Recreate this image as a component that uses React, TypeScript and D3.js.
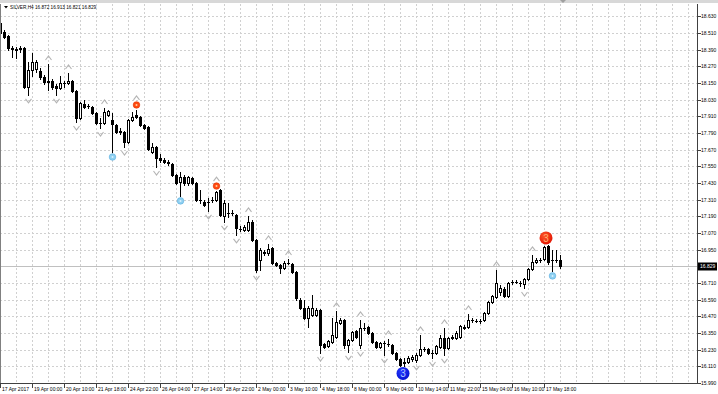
import React from "react";
import * as d3 from "d3";

const title = "SILVER,H4 16.872 16.913 16.821 16.829";
const lastPrice = 16.829;

const opens = [18.582,18.517,18.488,18.402,18.395,18.395,18.402,18.121,18.244,18.251,18.236,18.193,18.164,18.164,18.128,18.114,18.150,18.150,18.164,18.093,17.898,17.999,17.985,17.977,17.934,17.862,17.862,17.920,17.884,17.848,17.805,17.797,17.725,17.884,17.920,17.905,17.848,17.833,17.653,17.689,17.610,17.596,17.581,17.567,17.488,17.437,17.473,17.430,17.466,17.430,17.308,17.293,17.293,17.308,17.308,17.380,17.193,17.214,17.214,17.200,17.099,17.092,17.092,17.150,17.020,16.876,16.934,16.926,16.962,16.854,16.840,16.818,16.854,16.847,16.790,16.588,16.530,16.458,16.480,16.480,16.516,16.271,16.257,16.286,16.322,16.422,16.444,16.264,16.300,16.365,16.264,16.386,16.394,16.350,16.286,16.250,16.278,16.271,16.264,16.206,16.163,16.134,16.142,16.163,16.156,16.192,16.235,16.235,16.206,16.206,16.250,16.314,16.242,16.314,16.314,16.322,16.386,16.394,16.444,16.437,16.437,16.444,16.494,16.574,16.610,16.646,16.667,16.617,16.718,16.718,16.710,16.703,16.739,16.811,16.862,16.876,16.883,16.977,16.876,16.876,16.872];
const highs = [18.604,18.532,18.496,18.416,18.409,18.416,18.409,18.301,18.366,18.316,18.258,18.208,18.287,18.179,18.143,18.200,18.164,18.222,18.172,18.100,18.013,18.028,17.999,17.985,17.941,17.898,17.970,17.956,17.934,17.855,17.826,17.805,17.891,17.941,17.956,17.913,17.855,17.841,17.718,17.697,17.639,17.610,17.596,17.574,17.495,17.509,17.488,17.481,17.473,17.437,17.380,17.308,17.322,17.329,17.372,17.387,17.308,17.286,17.236,17.207,17.121,17.128,17.193,17.164,17.027,16.962,16.948,16.991,16.970,16.862,16.847,16.869,16.883,16.854,16.797,16.602,16.588,16.545,16.624,16.530,16.523,16.278,16.300,16.458,16.509,16.458,16.451,16.307,16.365,16.372,16.444,16.422,16.401,16.358,16.293,16.286,16.293,16.307,16.271,16.214,16.170,16.170,16.185,16.192,16.206,16.336,16.250,16.242,16.228,16.264,16.336,16.386,16.322,16.336,16.365,16.408,16.408,16.487,16.458,16.451,16.451,16.502,16.581,16.624,16.804,16.696,16.682,16.718,16.732,16.732,16.725,16.746,16.818,16.912,16.890,16.890,16.977,16.984,16.948,16.948,16.913];
const lows = [18.503,18.474,18.388,18.337,18.330,18.373,18.114,18.064,18.200,18.229,18.179,18.143,18.100,18.107,18.064,18.107,18.121,18.143,18.085,17.869,17.891,17.970,17.970,17.927,17.855,17.826,17.855,17.913,17.653,17.790,17.783,17.689,17.718,17.877,17.898,17.841,17.819,17.668,17.646,17.545,17.581,17.574,17.560,17.481,17.423,17.337,17.416,17.416,17.423,17.301,17.286,17.265,17.229,17.293,17.301,17.193,17.150,17.186,17.200,17.056,17.085,17.085,17.085,17.013,16.790,16.804,16.912,16.912,16.847,16.833,16.782,16.811,16.847,16.782,16.588,16.523,16.451,16.394,16.473,16.473,16.206,16.242,16.250,16.278,16.314,16.415,16.242,16.214,16.293,16.314,16.242,16.372,16.343,16.278,16.242,16.242,16.192,16.257,16.199,16.156,16.113,16.113,16.134,16.149,16.142,16.185,16.221,16.199,16.170,16.199,16.242,16.192,16.235,16.307,16.307,16.314,16.379,16.386,16.430,16.430,16.422,16.437,16.487,16.566,16.602,16.624,16.610,16.610,16.703,16.710,16.689,16.674,16.732,16.804,16.854,16.862,16.876,16.847,16.797,16.862,16.821];
const closes = [18.510,18.481,18.402,18.395,18.388,18.402,18.121,18.244,18.301,18.301,18.193,18.157,18.160,18.121,18.114,18.150,18.148,18.164,18.093,17.898,18.006,17.977,17.982,17.934,17.862,17.859,17.941,17.949,17.855,17.797,17.797,17.725,17.884,17.905,17.905,17.848,17.826,17.675,17.689,17.610,17.596,17.581,17.574,17.488,17.430,17.473,17.430,17.473,17.430,17.308,17.305,17.272,17.290,17.305,17.365,17.200,17.286,17.211,17.211,17.106,17.096,17.114,17.150,17.020,16.804,16.948,16.926,16.955,16.854,16.840,16.818,16.854,16.851,16.790,16.602,16.530,16.458,16.530,16.530,16.516,16.264,16.250,16.293,16.336,16.430,16.444,16.264,16.300,16.358,16.322,16.386,16.383,16.350,16.286,16.250,16.278,16.275,16.268,16.206,16.163,16.120,16.142,16.170,16.178,16.192,16.235,16.232,16.206,16.203,16.257,16.314,16.242,16.314,16.322,16.350,16.401,16.394,16.444,16.441,16.434,16.434,16.494,16.574,16.617,16.710,16.674,16.617,16.710,16.715,16.715,16.707,16.739,16.811,16.862,16.876,16.873,16.970,16.862,16.873,16.873,16.829];

const timeLabels = ["17 Apr 2017","19 Apr 00:00","20 Apr 10:00","21 Apr 18:00","24 Apr 22:00","26 Apr 04:00","27 Apr 14:00","28 Apr 22:00","2 May 00:00","3 May 10:00","4 May 18:00","8 May 00:00","9 May 04:00","10 May 14:00","11 May 22:00","15 May 04:00","16 May 10:00","17 May 18:00"];
const priceTicks = [18.63,18.51,18.39,18.27,18.15,18.03,17.91,17.79,17.67,17.55,17.43,17.31,17.19,17.07,16.95,16.83,16.71,16.59,16.47,16.35,16.23,16.11,15.99];

const upFractals = [12,17,26,34,54,62,67,72,84,90,97,105,111,117,124,133];
const downFractals = [7,14,19,25,31,39,52,56,59,64,80,87,90,96,104,108,111,131];
const sellDots = [34,54];
const buyDots = [28,45,138];
const sellBig = [136];
const buyBig = [101];
const bigLabel = "3";

const W = 718, H = 394;
const plotRight = 697, plotTop = 4, plotBottom = 383;
const barsPerLabel = 8;
const barsPerGrid = 4;

export default function App() {
  const n = closes.length;
  const x = d3.scaleLinear().domain([0, n - 1]).range([0, (n - 1) * 4]);
  const y = d3.scaleLinear().domain([15.99, 18.63]).range([plotBottom, 16.33]);
  const font = "'Liberation Sans', Arial, sans-serif";
  const gridXs = d3.range(0, plotRight, barsPerGrid * 4);
  const lastY = Math.round(y(lastPrice)) + 0.5;

  const candles = d3.range(n).map((i) => {
    const cx = Math.round(x(i));
    const yo = y(opens[i]), yc = y(closes[i]);
    const top = Math.round(Math.min(yo, yc));
    const bot = Math.round(Math.max(yo, yc));
    const bull = closes[i] >= opens[i];
    const wick = (
      <line key={"w" + i} x1={cx + 0.5} x2={cx + 0.5} y1={Math.round(y(highs[i]))} y2={Math.round(y(lows[i])) + 1} stroke="#000" strokeWidth={1} />
    );
    let body;
    if (bot - top < 1) {
      body = <line key={"b" + i} x1={cx - 1} x2={cx + 2} y1={top + 0.5} y2={top + 0.5} stroke="#000" />;
    } else if (bull) {
      body = <rect key={"b" + i} x={cx - 0.5} y={top + 0.5} width={2} height={bot - top} fill="#fff" stroke="#000" strokeWidth={1} />;
    } else {
      body = <rect key={"b" + i} x={cx - 1} y={top} width={3} height={bot - top + 1} fill="#000" />;
    }
    return <g key={i}>{wick}{body}</g>;
  });

  const chevron = (i: number, up: boolean, offset: number) => {
    const cx = Math.round(x(i)) + 0.5;
    const ay = up ? y(highs[i]) - offset : y(lows[i]) + offset;
    const d = up
      ? `M${cx - 3},${ay + 2}L${cx},${ay - 2}L${cx + 3},${ay + 2}`
      : `M${cx - 3},${ay - 2}L${cx},${ay + 2}L${cx + 3},${ay - 2}`;
    return <path key={(up ? "u" : "d") + i} d={d} fill="none" stroke="#b4b4b4" strokeWidth={1.1} />;
  };

  return (
    <svg width={W} height={H} style={{ position: "absolute", left: 0, top: 0, background: "#fff" }} xmlns="http://www.w3.org/2000/svg">
      <defs>
        <clipPath id="plot"><rect x={0} y={plotTop} width={plotRight} height={plotBottom - plotTop} /></clipPath>
        <radialGradient id="rg" cx="0.4" cy="0.35" r="0.7">
          <stop offset="0" stopColor="#ff5a2a" />
          <stop offset="1" stopColor="#e01000" />
        </radialGradient>
        <radialGradient id="bg" cx="0.4" cy="0.35" r="0.7">
          <stop offset="0" stopColor="#2a3cff" />
          <stop offset="1" stopColor="#0010d0" />
        </radialGradient>
      </defs>
      <rect x={0} y={0} width={W} height={H} fill="#fff" />
      <rect x={0} y={0} width={W} height={3} fill="#d8d8d8" />
      {/* grid */}
      <g stroke="#d0d0d0" strokeWidth={1} strokeDasharray="2,2">
        {priceTicks.map((p) => (
          <line key={"h" + p} x1={0} x2={plotRight} y1={Math.round(y(p)) + 0.5} y2={Math.round(y(p)) + 0.5} />
        ))}
        {gridXs.map((gx) => (
          <line key={"v" + gx} x1={gx + 0.5} x2={gx + 0.5} y1={plotTop} y2={plotBottom} />
        ))}
      </g>
      {/* current price line */}
      <line x1={0} x2={plotRight} y1={lastY} y2={lastY} stroke="#c0c0c0" />
      <g clipPath="url(#plot)">
        {candles}
        {upFractals.map((i) => chevron(i, true, sellDots.includes(i) ? 12 : 6))}
        {downFractals.map((i) => chevron(i, false, 6))}
        {sellDots.map((i) => (
          <g key={"sd" + i}>
            <circle cx={Math.round(x(i)) + 0.5} cy={y(highs[i]) - 5} r={3.3} fill="#ff4a10" stroke="#e03000" strokeWidth={0.6} />
            <circle cx={Math.round(x(i)) + 0.5} cy={y(highs[i]) - 5} r={1} fill="#ffd0a0" />
          </g>
        ))}
        {buyDots.map((i) => (
          <g key={"bd" + i}>
            <circle cx={Math.round(x(i)) + 0.5} cy={y(lows[i]) + 5} r={3.3} fill="#8fd0f0" stroke="#5aaee0" strokeWidth={0.6} />
            <circle cx={Math.round(x(i)) + 0.5} cy={y(lows[i]) + 5} r={1} fill="#d8f0ff" />
          </g>
        ))}
        {sellBig.map((i) => (
          <g key={"sb" + i}>
            <circle cx={Math.round(x(i)) + 2} cy={y(highs[i]) - 8} r={6.5} fill="url(#rg)" />
            <text x={Math.round(x(i)) + 2} y={y(highs[i]) - 8} dy="0.36em" textAnchor="middle" fontFamily={font} fontSize={10} fill="#ffb070">{bigLabel}</text>
          </g>
        ))}
        {buyBig.map((i) => (
          <g key={"bb" + i}>
            <circle cx={Math.round(x(i)) - 1} cy={y(lows[i]) + 7.5} r={6.5} fill="url(#bg)" />
            <text x={Math.round(x(i)) - 1} y={y(lows[i]) + 7.5} dy="0.36em" textAnchor="middle" fontFamily={font} fontSize={10} fill="#b0c8ff">{bigLabel}</text>
          </g>
        ))}
      </g>
      {/* frame */}
      <line x1={0.5} x2={0.5} y1={plotTop} y2={plotBottom} stroke="#808080" />
      <line x1={0} x2={plotRight + 1} y1={plotBottom + 0.5} y2={plotBottom + 0.5} stroke="#404040" />
      <line x1={plotRight + 0.5} x2={plotRight + 0.5} y1={plotTop} y2={plotBottom + 1} stroke="#404040" />
      <path d={`M${Math.round(x(n - 1))},0L${Math.round(x(n - 1)) + 6},0L${Math.round(x(n - 1)) + 3},3Z`} fill="#a0a0a0" />
      {/* price axis */}
      {priceTicks.map((p) => {
        const py = Math.round(y(p)) + 0.5;
        const hidden = Math.abs(y(p) - y(lastPrice)) < 6;
        return (
          <g key={"pt" + p}>
            <line x1={plotRight + 1} x2={plotRight + 4} y1={py} y2={py} stroke="#404040" />
            {!hidden && (
              <text x={701} y={py} dy="0.35em" fontFamily={font} fontSize={5} fill="#000">{p.toFixed(3)}</text>
            )}
          </g>
        );
      })}
      <rect x={698} y={lastY - 4} width={19} height={8} fill="#000" />
      <text x={700} y={lastY} dy="0.35em" fontFamily={font} fontSize={5} fill="#fff">{lastPrice.toFixed(3)}</text>
      {/* time axis */}
      {timeLabels.map((t, k) => {
        const tx = Math.round(x(k * barsPerLabel));
        return (
          <g key={"tl" + k}>
            <line x1={tx + 0.5} x2={tx + 0.5} y1={plotBottom + 1} y2={plotBottom + 5} stroke="#404040" />
            <text x={tx + 2} y={391} fontFamily={font} fontSize={5} fill="#000">{t}</text>
          </g>
        );
      })}
      {/* title */}
      <path d="M4,6L8,6L6,8.5Z" fill="#000" />
      <text x={10} y={9} fontFamily={font} fontSize={4.7} fill="#000">{title}</text>
    </svg>
  );
}
